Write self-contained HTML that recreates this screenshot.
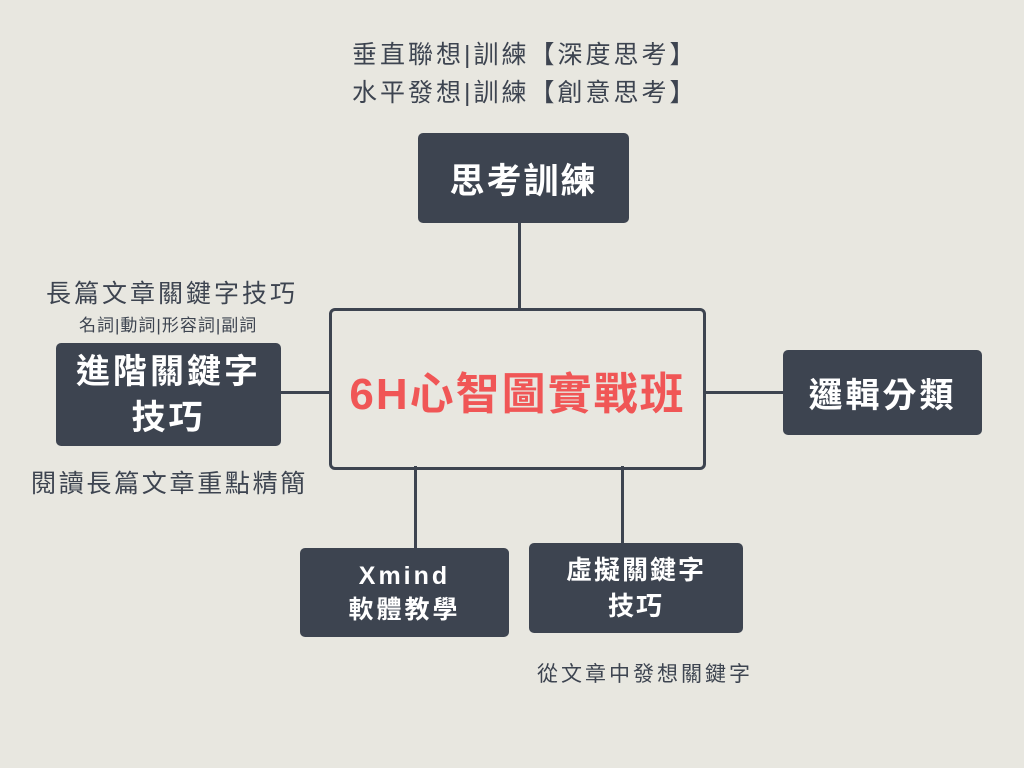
<!DOCTYPE html>
<html><head><meta charset="utf-8"><style>
body{margin:0;width:1024px;height:768px;background:#e8e7e0;position:relative;overflow:hidden;font-family:"Liberation Sans","Noto Sans CJK TC",sans-serif;color:#3d4450}
.n{position:absolute;background:#3d4450;color:#fff;border-radius:5px;display:flex;align-items:center;justify-content:center;text-align:center;font-weight:bold}
.t{position:absolute;white-space:nowrap;line-height:1}
.l{position:absolute;background:#3d4450}
</style></head><body>
<div class="l" style="left:518px;top:223px;width:3px;height:86px"></div>
<div class="l" style="left:281px;top:391px;width:49px;height:3px"></div>
<div class="l" style="left:705px;top:391px;width:79px;height:3px"></div>
<div class="l" style="left:414px;top:466px;width:3px;height:83px"></div>
<div class="l" style="left:621px;top:466px;width:3px;height:78px"></div>
<div style="position:absolute;left:329px;top:308px;width:371px;height:154px;border:3px solid #3d4450;border-radius:6px;display:flex;align-items:center;justify-content:center;color:#f05656;font-weight:bold;font-size:44px;letter-spacing:2px;padding-top:2px">6H心智圖實戰班</div>
<div class="n" style="left:418px;top:133px;width:211px;height:90px;font-size:35px;letter-spacing:2px">思考訓練</div>
<div class="n" style="left:56px;top:343px;width:225px;height:103px;font-size:34px;letter-spacing:3px;line-height:46px">進階關鍵字<br>技巧</div>
<div class="n" style="left:783px;top:350px;width:199px;height:85px;font-size:34px;letter-spacing:3px">邏輯分類</div>
<div class="n" style="left:300px;top:548px;width:209px;height:89px;font-size:25px;letter-spacing:3px;line-height:34px">Xmind<br>軟體教學</div>
<div class="n" style="left:529px;top:543px;width:214px;height:90px;font-size:26px;letter-spacing:2px;line-height:36px">虛擬關鍵字<br>技巧</div>
<div class="t" style="left:352px;top:43px;font-size:25px;letter-spacing:3px">垂直聯想|訓練【深度思考】</div>
<div class="t" style="left:352px;top:81px;font-size:25px;letter-spacing:3px">水平發想|訓練【創意思考】</div>
<div class="t" style="left:46px;top:282px;font-size:25px;letter-spacing:3px">長篇文章關鍵字技巧</div>
<div class="t" style="left:79px;top:317px;font-size:17px;letter-spacing:1px">名詞|動詞|形容詞|副詞</div>
<div class="t" style="left:31px;top:472px;font-size:25px;letter-spacing:2.7px">閱讀長篇文章重點精簡</div>
<div class="t" style="left:537px;top:664px;font-size:21px;letter-spacing:3px">從文章中發想關鍵字</div>
</body></html>
